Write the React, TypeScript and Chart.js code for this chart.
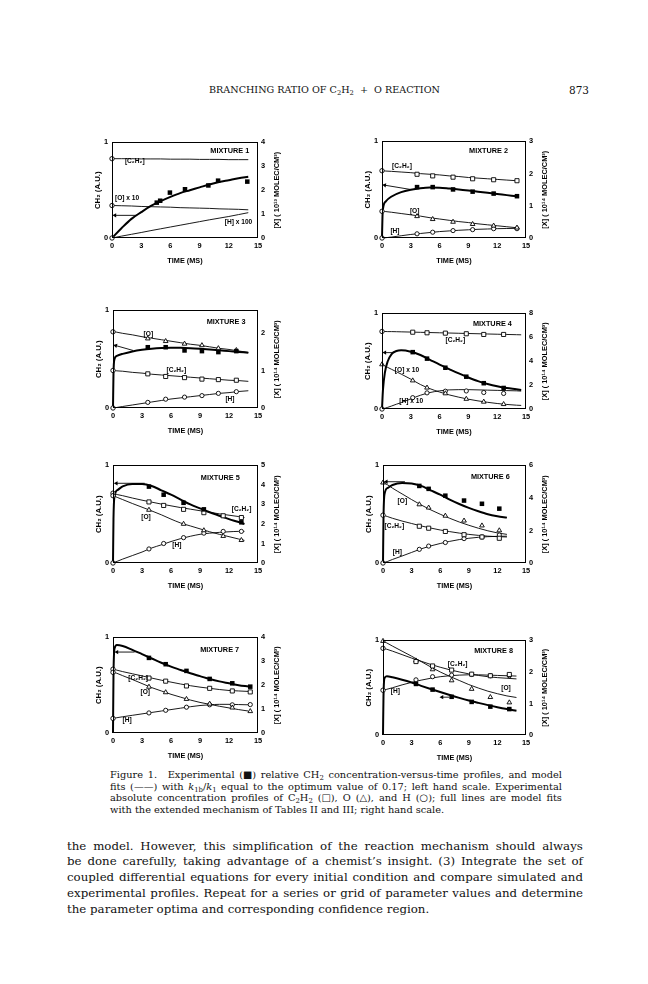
import React, { useEffect, useRef } from "react";
import { Chart, registerables } from "chart.js";

Chart.register(...registerables);

const SANS = "'Liberation Sans', Arial, Helvetica, sans-serif";
const SERIF = "'DejaVu Serif', 'Liberation Serif', serif";

// ---------- shared ticks ----------
const X_TICKS = [0, 3, 6, 9, 12, 15];
const LEFT_TICKS = [0, 1];

// ---------- MIXTURE 1 ----------
const p1ExpT = [4.6, 4.95, 5.95, 7.5, 9.9, 10.9, 13.9];
const p1Ch2 = [0.37, 0.39, 0.475, 0.51, 0.55, 0.6, 0.59];
const p1C2h2: (number | null)[] = [];
const p1O: (number | null)[] = [];
const p1H: (number | null)[] = [];
const p1Init = [3.32, 1.36, 0];
const p1FitT = [0, 1, 2, 3, 4, 5, 6, 7, 8, 9, 10, 11, 12, 13, 14];
const p1Ch2Fit = [0, 0.105, 0.2, 0.27, 0.335, 0.385, 0.43, 0.47, 0.5, 0.53, 0.56, 0.585, 0.605, 0.625, 0.64];
const p1C2h2Fit = [3.32, 3.32, 3.32, 3.31, 3.31, 3.31, 3.3, 3.3, 3.3, 3.29, 3.29, 3.29, 3.28, 3.28, 3.28];
const p1OFit = [1.36, 1.35, 1.34, 1.32, 1.31, 1.3, 1.29, 1.27, 1.26, 1.25, 1.24, 1.22, 1.21, 1.2, 1.18];
const p1HFit = [0, 0.08, 0.155, 0.23, 0.31, 0.385, 0.46, 0.535, 0.61, 0.685, 0.76, 0.83, 0.9, 0.98, 1.06];
const p1RTicks = [0, 1, 2, 3, 4];

// ---------- MIXTURE 2 ----------
const p2ExpT = [3.65, 5.28, 7.4, 9.44, 11.63, 14.06];
const p2Ch2 = [0.527, 0.527, 0.503, 0.48, 0.46, 0.433];
const p2C2h2 = [1.98, 1.93, 1.89, 1.84, 1.81, 1.78];
const p2O = [0.675, 0.584, 0.5, 0.43, 0.38, 0.32];
const p2H = [0.13, 0.18, 0.23, 0.26, 0.29, 0.29];
const p2Init = [2.09, 0.83, 0];
const p2FitT = [0, 0.05, 0.15, 0.4, 1, 2, 3, 4, 5, 6, 7, 8, 9, 10, 11, 12, 13, 14];
const p2Ch2Fit = [0, 0.22, 0.33, 0.38, 0.43, 0.475, 0.5, 0.515, 0.522, 0.52, 0.512, 0.503, 0.492, 0.48, 0.468, 0.456, 0.444, 0.432];
const p2C2h2Fit = [2.09, 2.09, 2.09, 2.08, 2.07, 2.05, 2.03, 2.0, 1.98, 1.96, 1.93, 1.91, 1.88, 1.86, 1.84, 1.82, 1.8, 1.78];
const p2OFit = [0.83, 0.83, 0.83, 0.82, 0.8, 0.76, 0.72, 0.68, 0.63, 0.59, 0.55, 0.51, 0.48, 0.44, 0.41, 0.38, 0.35, 0.32];
const p2HFit = [0, 0, 0, 0.01, 0.03, 0.07, 0.11, 0.14, 0.17, 0.2, 0.22, 0.24, 0.255, 0.27, 0.28, 0.29, 0.295, 0.3];
const p2RTicks = [0, 1, 2, 3];

// ---------- MIXTURE 3 ----------
const p3ExpT = [3.6, 5.45, 7.4, 9.2, 10.9, 12.76];
const p3Ch2 = [0.623, 0.623, 0.59, 0.583, 0.573, 0.583];
const p3C2h2 = [0.91, 0.84, 0.81, 0.77, 0.757, 0.74];
const p3O = [1.85, 1.78, 1.71, 1.67, 1.59, 1.54];
const p3H = [0.15, 0.235, 0.29, 0.33, 0.39, 0.435];
const p3Init = [1.0, 2.03, 0];
const p3FitT = [0, 0.05, 0.15, 0.4, 1, 2, 3, 4, 5, 6, 7, 8, 9, 10, 11, 12, 13, 14];
const p3Ch2Fit = [0, 0.35, 0.5, 0.535, 0.555, 0.58, 0.597, 0.608, 0.615, 0.618, 0.617, 0.613, 0.607, 0.6, 0.592, 0.583, 0.575, 0.567];
const p3C2h2Fit = [1.0, 1.0, 1.0, 0.99, 0.98, 0.95, 0.93, 0.9, 0.88, 0.86, 0.84, 0.82, 0.8, 0.78, 0.76, 0.74, 0.73, 0.71];
const p3OFit = [2.03, 2.03, 2.03, 2.02, 1.99, 1.95, 1.9, 1.86, 1.82, 1.78, 1.74, 1.7, 1.67, 1.63, 1.59, 1.56, 1.52, 1.48];
const p3HFit = [0, 0, 0.005, 0.015, 0.04, 0.08, 0.12, 0.16, 0.2, 0.24, 0.27, 0.3, 0.33, 0.36, 0.39, 0.41, 0.44, 0.46];
const p3RTicks = [0, 1, 2];

// ---------- MIXTURE 4 ----------
const p4ExpT = [3.2, 4.69, 6.6, 8.78, 10.6, 12.67];
const p4Ch2 = [0.595, 0.527, 0.432, 0.338, 0.27, 0.22];
const p4C2h2 = [6.43, 6.38, 6.35, 6.3, 6.24, 6.24];
const p4O = [2.38, 1.78, 1.3, 0.84, 0.6, 0.4];
const p4H = [0.95, 1.35, 1.49, 1.51, 1.38, 1.3];
const p4Init = [6.49, 3.73, 0];
const p4FitT = [0, 0.1, 0.3, 0.6, 1, 1.5, 2, 3, 4, 5, 6, 7, 8, 9, 10, 11, 12, 13, 14, 14.5];
const p4Ch2Fit = [0, 0.2, 0.38, 0.5, 0.575, 0.607, 0.615, 0.6, 0.565, 0.515, 0.465, 0.418, 0.372, 0.33, 0.292, 0.262, 0.238, 0.22, 0.207, 0.2];
const p4C2h2Fit = [6.49, 6.49, 6.49, 6.48, 6.48, 6.47, 6.46, 6.44, 6.42, 6.4, 6.38, 6.36, 6.34, 6.32, 6.3, 6.28, 6.26, 6.24, 6.22, 6.21];
const p4OFit = [3.73, 3.69, 3.6, 3.48, 3.32, 3.12, 2.92, 2.5, 2.05, 1.7, 1.42, 1.18, 0.99, 0.82, 0.68, 0.56, 0.46, 0.38, 0.32, 0.3];
const p4HFit = [0, 0.02, 0.06, 0.14, 0.25, 0.4, 0.53, 0.85, 1.15, 1.38, 1.52, 1.6, 1.62, 1.62, 1.6, 1.58, 1.56, 1.54, 1.52, 1.5];
const p4RTicks = [0, 2, 4, 6, 8];

// ---------- MIXTURE 5 ----------
const p5ExpT = [3.72, 5.24, 7.3, 9.4, 11.4, 13.28];
const p5Ch2 = [0.783, 0.7, 0.617, 0.55, null, 0.417];
const p5C2h2 = [3.13, 2.95, 2.75, 2.58, 2.42, 2.33];
const p5O = [2.72, null, 2.0, 1.67, 1.38, 1.17];
const p5H = [0.72, 1.0, 1.3, 1.53, 1.62, 1.62];
const p5Init = [3.58, 3.45, 0];
const p5FitT = [0, 0.05, 0.15, 0.5, 1, 2, 3, 4, 5, 6, 7, 8, 9, 10, 11, 12, 13, 13.6];
const p5Ch2Fit = [0, 0.45, 0.68, 0.75, 0.785, 0.81, 0.81, 0.79, 0.745, 0.7, 0.65, 0.6, 0.56, 0.52, 0.485, 0.45, 0.42, 0.4];
const p5C2h2Fit = [3.58, 3.57, 3.55, 3.5, 3.45, 3.33, 3.22, 3.12, 3.02, 2.93, 2.84, 2.76, 2.68, 2.6, 2.52, 2.45, 2.38, 2.33];
const p5OFit = [3.45, 3.44, 3.42, 3.35, 3.25, 3.05, 2.86, 2.67, 2.47, 2.25, 2.05, 1.9, 1.75, 1.6, 1.47, 1.35, 1.23, 1.16];
const p5HFit = [0, 0.01, 0.03, 0.1, 0.2, 0.38, 0.56, 0.77, 0.93, 1.1, 1.25, 1.37, 1.47, 1.53, 1.57, 1.6, 1.62, 1.62];
const p5RTicks = [0, 1, 2, 3, 4, 5];

// ---------- MIXTURE 6 ----------
const p6ExpT = [3.81, 4.79, 6.54, 8.5, 10.38, 12.2];
const p6Ch2 = [0.79, 0.76, 0.69, 0.64, 0.607, 0.557];
const p6C2h2 = [2.26, 2.14, 1.94, 1.74, 1.6, 1.52];
const p6O = [3.6, 3.4, 2.9, 2.6, 2.3, 2.0];
const p6H = [0.84, 1.04, 1.26, 1.5, 1.6, 1.72];
const p6Init = [2.94, 4.94, 0];
const p6FitT = [0, 0.05, 0.15, 0.5, 1, 2, 3, 4, 5, 6, 7, 8, 9, 10, 11, 12, 13];
const p6Ch2Fit = [0, 0.45, 0.7, 0.77, 0.8, 0.82, 0.815, 0.79, 0.745, 0.7, 0.65, 0.605, 0.565, 0.53, 0.5, 0.48, 0.465];
const p6C2h2Fit = [2.94, 2.93, 2.92, 2.85, 2.75, 2.58, 2.43, 2.28, 2.15, 2.03, 1.93, 1.84, 1.76, 1.7, 1.65, 1.62, 1.6];
const p6OFit = [4.94, 4.93, 4.9, 4.8, 4.6, 4.25, 3.9, 3.57, 3.27, 3.0, 2.75, 2.52, 2.32, 2.14, 1.98, 1.85, 1.76];
const p6HFit = [0, 0.01, 0.03, 0.1, 0.22, 0.43, 0.65, 0.87, 1.05, 1.2, 1.33, 1.44, 1.52, 1.58, 1.62, 1.64, 1.65];
const p6RTicks = [0, 2, 4, 6];

// ---------- MIXTURE 7 ----------
const p7ExpT = [3.72, 5.45, 7.6, 10.0, 12.34, 14.2];
const p7Ch2 = [0.786, 0.72, 0.65, 0.566, 0.52, 0.485];
const p7C2h2 = [2.3, 2.17, 1.97, 1.87, 1.76, 1.72];
const p7O = [1.93, 1.7, 1.42, 1.22, 1.06, 0.91];
const p7H = [0.84, 0.95, 1.08, 1.18, 1.18, 1.19];
const p7Init = [2.67, 2.54, 0.61];
const p7FitT = [0, 0.05, 0.15, 0.4, 1, 2, 3, 4, 5, 6, 7, 8, 9, 10, 11, 12, 13, 14];
const p7Ch2Fit = [0, 0.6, 0.88, 0.92, 0.91, 0.87, 0.825, 0.78, 0.735, 0.695, 0.66, 0.625, 0.595, 0.565, 0.54, 0.52, 0.5, 0.487];
const p7C2h2Fit = [2.67, 2.67, 2.66, 2.63, 2.57, 2.48, 2.39, 2.3, 2.21, 2.13, 2.05, 1.98, 1.92, 1.87, 1.82, 1.78, 1.76, 1.74];
const p7OFit = [2.54, 2.54, 2.53, 2.5, 2.4, 2.24, 2.07, 1.9, 1.76, 1.62, 1.5, 1.38, 1.28, 1.2, 1.12, 1.05, 0.98, 0.92];
const p7HFit = [0.61, 0.61, 0.62, 0.64, 0.68, 0.74, 0.8, 0.86, 0.92, 0.98, 1.04, 1.1, 1.15, 1.18, 1.2, 1.2, 1.19, 1.18];
const p7RTicks = [0, 1, 2, 3, 4];

// ---------- MIXTURE 8 ----------
const p8ExpT = [3.46, 5.2, 7.2, 9.3, 11.26, 13.25];
const p8Ch2 = [0.54, 0.48, 0.404, 0.35, 0.3, 0.274];
const p8C2h2 = [2.33, 2.19, 2.06, 1.93, 1.88, 1.92];
const p8O = [2.36, 2.08, 1.73, 1.46, 1.2, 1.03];
const p8H = [1.75, 1.85, 1.9, 1.92, 1.88, 1.88];
const p8Init = [2.75, 2.98, 1.42];
const p8FitT = [0, 0.05, 0.15, 0.4, 1, 2, 3, 4, 5, 6, 7, 8, 9, 10, 11, 12, 13, 14];
const p8Ch2Fit = [0, 0.4, 0.6, 0.62, 0.61, 0.585, 0.555, 0.52, 0.487, 0.455, 0.423, 0.393, 0.365, 0.34, 0.316, 0.294, 0.274, 0.256];
const p8C2h2Fit = [2.75, 2.75, 2.74, 2.72, 2.66, 2.55, 2.44, 2.34, 2.24, 2.15, 2.07, 2.0, 1.94, 1.89, 1.85, 1.82, 1.8, 1.78];
const p8OFit = [2.98, 2.97, 2.96, 2.92, 2.82, 2.66, 2.5, 2.33, 2.16, 2.0, 1.86, 1.73, 1.6, 1.49, 1.39, 1.31, 1.24, 1.19];
const p8HFit = [1.42, 1.42, 1.43, 1.45, 1.5, 1.59, 1.67, 1.74, 1.8, 1.85, 1.88, 1.9, 1.91, 1.91, 1.9, 1.89, 1.88, 1.87];
const p8RTicks = [0, 1, 2, 3];

type Label = [string, number, number, "y" | "y2"];
type Panel = {
  expT: number[];
  ch2: (number | null)[];
  c2h2: (number | null)[];
  o: (number | null)[];
  h: (number | null)[];
  init: number[]; // C2H2, O, H at t = 0
  initShape: string[];
  fitT: number[];
  ch2Fit: number[];
  c2h2Fit: number[];
  oFit: number[];
  hFit: number[];
  arrow: [number, number, number, number]; // tail x,y  head x,y
  rTicks: number[];
  rMax: number;
  rTitle: string;
  labels: Label[];
  box: { left: number; top: number; w: number; h: number };
};

const T14 = "[X] ( 10\u00B9\u2074 MOLEC/CM\u00B3)";
const T13 = "[X] ( 10\u00B9\u00B3 MOLEC/CM\u00B3)";
const CC = "[C\u2082H\u2082]";

const PANELS: Panel[] = [
  {
    expT: p1ExpT, ch2: p1Ch2, c2h2: p1C2h2, o: p1O, h: p1H, init: p1Init,
    initShape: ["circle", "circle", "circle"],
    fitT: p1FitT, ch2Fit: p1Ch2Fit, c2h2Fit: p1C2h2Fit, oFit: p1OFit, hFit: p1HFit,
    arrow: [2.55, 0.237, 0.3, 0.237], rTicks: p1RTicks, rMax: 4, rTitle: T13,
    labels: [["MIXTURE 1", 12.1, 0.91, "y"], [CC, 2.34, 3.22, "y2"], ["[O] x 10", 1.55, 1.65, "y2"], ["[H] x 100", 13.0, 0.65, "y2"]],
    box: { left: 112, top: 140, w: 146, h: 98 },
  },
  {
    expT: p2ExpT, ch2: p2Ch2, c2h2: p2C2h2, o: p2O, h: p2H, init: p2Init,
    initShape: ["circle", "circle", "circle"],
    fitT: p2FitT, ch2Fit: p2Ch2Fit, c2h2Fit: p2C2h2Fit, oFit: p2OFit, hFit: p2HFit,
    arrow: [2.95, 0.503, 0.28, 0.547], rTicks: p2RTicks, rMax: 3, rTitle: T14,
    labels: [["MIXTURE 2", 11.1, 0.9, "y"], [CC, 2.08, 2.24, "y2"], ["[O]", 3.4, 0.83, "y2"], ["[H]", 1.35, 0.2, "y2"]],
    box: { left: 382, top: 139, w: 144, h: 99 },
  },
  {
    expT: p3ExpT, ch2: p3Ch2, c2h2: p3C2h2, o: p3O, h: p3H, init: p3Init,
    initShape: ["circle", "circle", "circle"],
    fitT: p3FitT, ch2Fit: p3Ch2Fit, c2h2Fit: p3C2h2Fit, oFit: p3OFit, hFit: p3HFit,
    arrow: [2.07, 0.59, 0.28, 0.64], rTicks: p3RTicks, rMax: 2.6, rTitle: T14,
    labels: [["MIXTURE 3", 11.7, 0.877, "y"], ["[O]", 3.66, 1.98, "y2"], [CC, 6.55, 1.02, "y2"], ["[H]", 12.1, 0.235, "y2"]],
    box: { left: 113, top: 308, w: 145, h: 100 },
  },
  {
    expT: p4ExpT, ch2: p4Ch2, c2h2: p4C2h2, o: p4O, h: p4H, init: p4Init,
    initShape: ["circle", "triangle", "circle"],
    fitT: p4FitT, ch2Fit: p4Ch2Fit, c2h2Fit: p4C2h2Fit, oFit: p4OFit, hFit: p4HFit,
    arrow: [1.32, 0.59, 0.3, 0.59], rTicks: p4RTicks, rMax: 8, rTitle: T14,
    labels: [["MIXTURE 4", 11.5, 0.89, "y"], [CC, 7.64, 5.76, "y2"], ["[O] x 10", 2.6, 3.24, "y2"], ["[H] x 10", 3.05, 0.62, "y2"]],
    box: { left: 382, top: 311, w: 144, h: 98 },
  },
  {
    expT: p5ExpT, ch2: p5Ch2, c2h2: p5C2h2, o: p5O, h: p5H, init: p5Init,
    initShape: ["circle", "circle", "circle"],
    fitT: p5FitT, ch2Fit: p5Ch2Fit, c2h2Fit: p5C2h2Fit, oFit: p5OFit, hFit: p5HFit,
    arrow: [3.28, 0.817, 0.34, 0.817], rTicks: p5RTicks, rMax: 5, rTitle: T14,
    labels: [["MIXTURE 5", 11.1, 0.867, "y"], [CC, 13.3, 2.75, "y2"], ["[O]", 3.41, 2.33, "y2"], ["[H]", 6.6, 0.92, "y2"]],
    box: { left: 113, top: 463, w: 145, h: 100 },
  },
  {
    expT: p6ExpT, ch2: p6Ch2, c2h2: p6C2h2, o: p6O, h: p6H, init: p6Init,
    initShape: ["circle", "triangle", "circle"],
    fitT: p6FitT, ch2Fit: p6Ch2Fit, c2h2Fit: p6C2h2Fit, oFit: p6OFit, hFit: p6HFit,
    arrow: [2.3, 0.833, 0.35, 0.833], rTicks: p6RTicks, rMax: 6, rTitle: T14,
    labels: [["MIXTURE 6", 11.26, 0.877, "y"], ["[O]", 2.03, 3.8, "y2"], [CC, 1.19, 2.26, "y2"], ["[H]", 1.5, 0.66, "y2"]],
    box: { left: 383, top: 463, w: 143, h: 100 },
  },
  {
    expT: p7ExpT, ch2: p7Ch2, c2h2: p7C2h2, o: p7O, h: p7H, init: p7Init,
    initShape: ["circle", "circle", "circle"],
    fitT: p7FitT, ch2Fit: p7Ch2Fit, c2h2Fit: p7C2h2Fit, oFit: p7OFit, hFit: p7HFit,
    arrow: [2.24, 0.847, 0.41, 0.847], rTicks: p7RTicks, rMax: 4, rTitle: T14,
    labels: [["MIXTURE 7", 11.03, 0.864, "y"], [CC, 2.6, 2.28, "y2"], ["[O]", 3.34, 1.72, "y2"], ["[H]", 1.45, 0.54, "y2"]],
    box: { left: 113, top: 635, w: 145, h: 98 },
  },
  {
    expT: p8ExpT, ch2: p8Ch2, c2h2: p8C2h2, o: p8O, h: p8H, init: p8Init,
    initShape: ["circle", "triangle", "circle"],
    fitT: p8FitT, ch2Fit: p8Ch2Fit, c2h2Fit: p8C2h2Fit, oFit: p8OFit, hFit: p8HFit,
    arrow: [6.96, 0.4, 6.19, 0.4], rTicks: p8RTicks, rMax: 3, rTitle: T14,
    labels: [["MIXTURE 8", 11.6, 0.89, "y"], [CC, 7.83, 2.24, "y2"], ["[O]", 12.9, 1.49, "y2"], ["[H]", 1.29, 1.39, "y2"]],
    box: { left: 383, top: 638, w: 143, h: 97 },
  },
];

const LW = 20;
const RW = 24;
const PT = 6;
const XH = 28;

const pts = (xs: number[], ys: (number | null)[]) =>
  xs.map((x, i) => ({ x, y: ys[i] ?? null })).filter((d) => d.y !== null) as { x: number; y: number }[];

const f = (size: number) => ({ family: SANS, size, weight: "bold" as const });
const NOGRID = { display: false, drawTicks: false, tickLength: 0 };

function makeConfig(p: Panel): any {
  const open = { pointBackgroundColor: "#fff", pointBorderColor: "#000", pointBorderWidth: 0.9 };
  const fit = (data: any, axis: string, width: number) => ({
    data, yAxisID: axis, borderColor: "#000", borderWidth: width, pointRadius: 0,
    tension: 0.4, cubicInterpolationMode: "monotone", fill: false, clip: false,
  });
  const [tx, ty, hx, hy] = p.arrow;
  return {
    type: "line",
    data: {
      datasets: [
        { data: pts(p.expT, p.ch2), yAxisID: "y", showLine: false, pointStyle: "rect", pointRadius: 3.2,
          pointBackgroundColor: "#000", pointBorderColor: "#000", pointBorderWidth: 0, clip: false },
        { data: pts(p.expT, p.c2h2), yAxisID: "y2", showLine: false, pointStyle: "rect", pointRadius: 2.9, ...open, clip: false },
        { data: pts(p.expT, p.o), yAxisID: "y2", showLine: false, pointStyle: "triangle", pointRadius: 2.7, ...open, clip: false },
        { data: pts(p.expT, p.h), yAxisID: "y2", showLine: false, pointStyle: "circle", pointRadius: 2.1, ...open, clip: false },
        { data: p.init.map((v) => ({ x: 0, y: v })), yAxisID: "y2", showLine: false, pointStyle: p.initShape,
          pointRadius: p.initShape.map((s) => (s === "triangle" ? 2.7 : 2.2)), ...open, clip: false },
        fit(pts(p.fitT, p.ch2Fit), "y", 2),
        fit(pts(p.fitT, p.c2h2Fit), "y2", 0.9),
        fit(pts(p.fitT, p.oFit), "y2", 0.9),
        fit(pts(p.fitT, p.hFit), "y2", 0.9),
        {
          data: [{ x: tx, y: ty }, { x: hx, y: hy }], yAxisID: "y", borderColor: "#000", borderWidth: 0.9,
          pointRadius: [0, 2.5], pointStyle: "triangle", pointBackgroundColor: "#000", pointBorderWidth: 0,
          pointRotation: (ctx: any) => {
            const sx = ctx.chart.scales.x, sy = ctx.chart.scales.y;
            const dx = sx.getPixelForValue(hx) - sx.getPixelForValue(tx);
            const dy = sy.getPixelForValue(hy) - sy.getPixelForValue(ty);
            return (Math.atan2(dx, -dy) * 180) / Math.PI;
          },
          clip: false,
        },
      ],
    },
    options: {
      animation: false,
      responsive: false,
      events: [],
      layout: { padding: { top: PT, left: 0, right: 0, bottom: 0 } },
      plugins: { legend: { display: false }, tooltip: { enabled: false } },
      scales: {
        x: {
          type: "linear", min: 0, max: 15,
          afterBuildTicks: (s: any) => { s.ticks = X_TICKS.map((v) => ({ value: v })); },
          afterFit: (s: any) => { s.height = XH; },
          ticks: { font: f(7.4), color: "#000", padding: 4, maxRotation: 0, autoSkip: false },
          grid: NOGRID, border: { display: false },
          title: { display: true, text: "TIME (MS)", font: f(7.3), color: "#000", padding: { top: 0, bottom: 1 } },
        },
        y: {
          position: "left", min: 0, max: 1,
          afterBuildTicks: (s: any) => { s.ticks = LEFT_TICKS.map((v) => ({ value: v })); },
          afterFit: (s: any) => { s.width = LW; },
          ticks: { font: f(7.4), color: "#000", padding: 4 },
          grid: NOGRID, border: { display: false },
          title: { display: true, text: "CH\u2082 (A.U.)", font: f(7.8), color: "#000", padding: { top: 1.5, bottom: 0 } },
        },
        y2: {
          position: "right", min: 0, max: p.rMax,
          afterBuildTicks: (s: any) => { s.ticks = p.rTicks.map((v) => ({ value: v })); },
          afterFit: (s: any) => { s.width = RW; },
          ticks: { font: f(7.4), color: "#000", padding: 3 },
          grid: NOGRID, border: { display: false },
          title: { display: false },
        },
      },
    },
    plugins: [
      {
        id: "frameAndText",
        afterDatasetsDraw(chart: any) {
          const { ctx, scales } = chart;
          ctx.save();
          ctx.fillStyle = "#000";
          ctx.textAlign = "center";
          ctx.textBaseline = "middle";
          for (const [t, x, y, ax] of p.labels) {
            const big = t.startsWith("MIXTURE");
            ctx.font = `bold ${big ? 7.3 : 6.6}px ${SANS}`;
            ctx.fillText(t, scales.x.getPixelForValue(x), scales[ax].getPixelForValue(y));
          }
          ctx.restore();
        },
        afterDraw(chart: any) {
          const { ctx, chartArea: a } = chart;
          ctx.save();
          ctx.strokeStyle = "#000";
          ctx.lineWidth = 1;
          ctx.strokeRect(Math.round(a.left) + 0.5, Math.round(a.top) + 0.5,
            Math.round(a.right - a.left) - 1, Math.round(a.bottom - a.top) - 1);
          ctx.translate(a.right + 19, (a.top + a.bottom) / 2);
          ctx.rotate(-Math.PI / 2);
          ctx.font = `bold 7.4px ${SANS}`;
          ctx.fillStyle = "#000";
          ctx.textAlign = "center";
          ctx.textBaseline = "middle";
          ctx.fillText(p.rTitle, 0, 0);
          ctx.restore();
        },
      },
    ],
  };
}

function PanelChart({ p }: { p: Panel }) {
  const ref = useRef<HTMLCanvasElement>(null);
  useEffect(() => {
    const chart = new Chart(ref.current as HTMLCanvasElement, makeConfig(p));
    return () => chart.destroy();
  }, [p]);
  const W = LW + p.box.w + RW;
  const H = PT + p.box.h + XH;
  return (
    <canvas
      ref={ref}
      width={W}
      height={H}
      style={{ position: "absolute", left: p.box.left - LW, top: p.box.top - PT, width: W, height: H }}
    />
  );
}

const Sb = ({ children }: { children: React.ReactNode }) => (
  <sub style={{ fontSize: "70%", verticalAlign: "-0.25em", lineHeight: 0 }}>{children}</sub>
);

const C2H2 = (
  <>
    C<Sb>2</Sb>H<Sb>2</Sb>
  </>
);

const CAPTION: React.ReactNode[][] = [
  ["Figure", <span style={{ paddingRight: 6 }}>1.</span>, "Experimental", "(\u25A0)", "relative", <>CH<Sb>2</Sb></>,
    "concentration-versus-time", "profiles,", "and", "model"],
  ["fits", "(\u2014\u2014)", "with", <><i>k</i><Sb>1b</Sb>/<i>k</i><Sb>1</Sb></>, "equal", "to", "the", "optimum", "value",
    "of", "0.17;", "left", "hand", "scale.", "Experimental"],
  ["absolute", "concentration", "profiles", "of", C2H2, "(\u25A1),", "O", "(\u25B3),", "and", "H", "(\u25CB);", "full",
    "lines", "are", "model", "fits"],
];
const CAPTION_LAST = "with the extended mechanism of Tables II and III; right hand scale.";

const BODY: string[] = [
  "the model. However, this simplification of the reaction mechanism should always",
  "be done carefully, taking advantage of a chemist\u2019s insight. (3) Integrate the set of",
  "coupled differential equations for every initial condition and compare simulated and",
  "experimental profiles. Repeat for a series or grid of parameter values and determine",
];
const BODY_LAST = "the parameter optima and corresponding confidence region.";

function JLine({ words, left, top, width, size, lh }: { words: React.ReactNode[]; left: number; top: number; width: number; size: number; lh: number }) {
  return (
    <div
      style={{
        position: "absolute", left, top, width, display: "flex", justifyContent: "space-between",
        whiteSpace: "nowrap", fontFamily: SERIF, fontSize: size, lineHeight: `${lh}px`, color: "#111",
      }}
    >
      {words.map((w, i) => (
        <span key={i}>{w}</span>
      ))}
    </div>
  );
}

export default function App() {
  const capLeft = 110, capW = 452, capSize = 9.8, capLh = 11.7, capTop0 = 769;
  const bodyLeft = 67, bodyW = 516, bodySize = 11.8, bodyLh = 15.75, bodyTop0 = 838.5;
  return (
    <div style={{ position: "absolute", left: 0, top: 0, width: 648, height: 984, background: "#fff", overflow: "hidden" }}>
      <div
        style={{
          position: "absolute", left: 0, top: 84, width: 649, textAlign: "center", fontFamily: SERIF,
          fontSize: 9.6, lineHeight: "12px", color: "#111", whiteSpace: "nowrap",
        }}
      >
        BRANCHING RATIO OF C<Sb>2</Sb>H<Sb>2</Sb>&nbsp;&nbsp;+&nbsp;&nbsp;O REACTION
      </div>
      <div style={{ position: "absolute", left: 569, top: 84, fontFamily: SERIF, fontSize: 10.5, lineHeight: "12px", color: "#111" }}>
        873
      </div>

      {PANELS.map((p, i) => (
        <PanelChart key={i} p={p} />
      ))}

      {CAPTION.map((w, i) => (
        <JLine key={"c" + i} words={w} left={capLeft} top={capTop0 + i * capLh} width={capW} size={capSize} lh={capLh} />
      ))}
      <div
        style={{
          position: "absolute", left: capLeft, top: capTop0 + 3 * capLh, fontFamily: SERIF, fontSize: capSize,
          lineHeight: `${capLh}px`, whiteSpace: "nowrap", color: "#111",
        }}
      >
        {CAPTION_LAST}
      </div>

      {BODY.map((t, i) => (
        <JLine key={"b" + i} words={t.split(" ")} left={bodyLeft} top={bodyTop0 + i * bodyLh} width={bodyW} size={bodySize} lh={bodyLh} />
      ))}
      <div
        style={{
          position: "absolute", left: bodyLeft, top: bodyTop0 + 4 * bodyLh, fontFamily: SERIF, fontSize: bodySize,
          lineHeight: `${bodyLh}px`, whiteSpace: "nowrap", color: "#111",
        }}
      >
        {BODY_LAST}
      </div>
    </div>
  );
}
